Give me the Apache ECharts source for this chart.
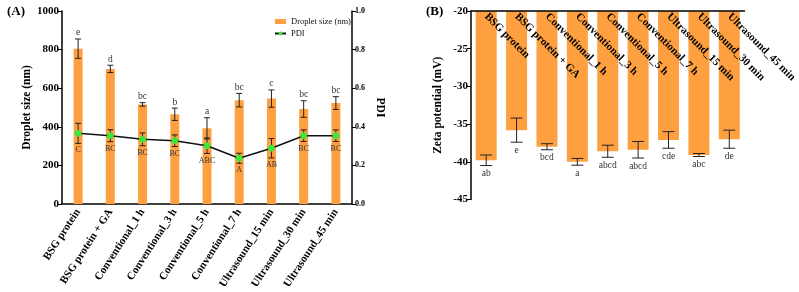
<!DOCTYPE html>
<html>
<head>
<meta charset="utf-8">
<script src="https://cdn.jsdelivr.net/npm/echarts@6/dist/echarts.min.js"></script>
<style>
    html, body { margin: 0; padding: 0; background: #fff; }
    #chart { width: 799px; height: 292px; }
</style>
</head>
<body>
<div id="chart"></div>
<script>
// categories shared by both panels
var categories = ['BSG protein', 'BSG protein + GA', 'Conventional_1 h', 'Conventional_3 h',
    'Conventional_5 h', 'Conventional_7 h', 'Ultrasound_15 min', 'Ultrasound_30 min', 'Ultrasound_45 min'];

// panel A
var dropletSize = [805, 700, 516, 465, 392, 538, 546, 492, 523];
var dropletErr = [50, 19, 9, 32, 55, 35, 45, 43, 33];
var dropletLetters = ['e', 'd', 'bc', 'b', 'a', 'bc', 'c', 'bc', 'bc'];
var pdi = [0.366, 0.354, 0.335, 0.328, 0.302, 0.237, 0.289, 0.354, 0.354];
var pdiErr = [0.052, 0.031, 0.033, 0.03, 0.04, 0.026, 0.05, 0.03, 0.03];
var pdiLetters = ['C', 'BC', 'BC', 'BC', 'ABC', 'A', 'AB', 'BC', 'BC'];

// panel B
var zeta = [-39.8, -35.8, -38.0, -40.0, -38.6, -38.4, -37.1, -39.1, -37.0];
var zetaErr = [0.7, 1.6, 0.4, 0.45, 0.8, 1.1, 1.1, 0.2, 1.2];
var zetaLetters = ['ab', 'e', 'bcd', 'a', 'abcd', 'abcd', 'cde', 'abc', 'de'];

var ORANGE = '#FFA040';
var SERIF = 'Liberation Serif';

function errData(vals, errs) {
    return vals.map(function (v, i) { return [i, v, errs[i]]; });
}

// error bar + significance letter
function errorBar(letters, cap, below, fontSize, gap) {
    return function (params, api) {
        var x = api.value(0), m = api.value(1), e = api.value(2);
        var top = api.coord([x, m + e]);
        var bot = api.coord([x, m - e]);
        var st = { stroke: '#222', lineWidth: 1 };
        var txtY = below ? bot[1] + gap : top[1] - gap;
        return {
            type: 'group',
            children: [
                { type: 'line', shape: { x1: top[0], y1: top[1], x2: bot[0], y2: bot[1] }, style: st },
                { type: 'line', shape: { x1: top[0] - cap, y1: top[1], x2: top[0] + cap, y2: top[1] }, style: st },
                { type: 'line', shape: { x1: bot[0] - cap, y1: bot[1], x2: bot[0] + cap, y2: bot[1] }, style: st },
                {
                    type: 'text',
                    style: {
                        x: top[0], y: txtY, text: letters[params.dataIndex],
                        fontFamily: SERIF, fontSize: fontSize, fill: '#333',
                        align: 'center', verticalAlign: below ? 'top' : 'bottom'
                    }
                }
            ]
        };
    };
}

var axisLine = { show: true, lineStyle: { color: '#000', width: 1.5 } };
var boldLabel = { color: '#000', fontFamily: SERIF, fontWeight: 'bold', fontSize: 11 };
var nameStyle = { color: '#000', fontFamily: SERIF, fontWeight: 'bold', fontSize: 11.5 };
var plain = function (v) { return String(v); };

var chart = echarts.init(document.getElementById('chart'));
chart.setOption({
    animation: false,
    title: [
        { text: '(A)', left: 2, top: 0, textStyle: { fontFamily: SERIF, fontWeight: 'bold', fontSize: 13, color: '#000' } },
        { text: '(B)', left: 421, top: 0, textStyle: { fontFamily: SERIF, fontWeight: 'bold', fontSize: 13, color: '#000' } }
    ],
    legend: {
        left: 269, top: 12, orient: 'vertical',
        itemWidth: 11, itemHeight: 5, itemGap: 3,
        textStyle: { fontFamily: SERIF, fontSize: 8.5, color: '#111' },
        data: [{ name: 'Droplet size (nm)', icon: 'rect' }, 'PDI']
    },
    grid: [
        { left: 62, top: 11, width: 290, height: 193 },
        { left: 471, top: 11, width: 282, height: 188.5 }
    ],
    xAxis: [
        {
            type: 'category', gridIndex: 0, data: categories,
            axisLine: axisLine,
            axisTick: { alignWithLabel: true, length: 4, lineStyle: { color: '#000' } },
            axisLabel: Object.assign({ rotate: 57, interval: 0, margin: 6 }, boldLabel)
        },
        {
            type: 'category', gridIndex: 1, data: categories, position: 'top', z: 10,
            axisLine: { show: true, onZero: false, lineStyle: { color: '#000', width: 1.5 } },
            axisTick: { alignWithLabel: true, length: 4, lineStyle: { color: '#000' } },
            axisLabel: Object.assign({ rotate: 45, interval: 0, inside: true, margin: 4 }, boldLabel)
        }
    ],
    yAxis: [
        {
            type: 'value', gridIndex: 0, min: 0, max: 1000, interval: 200,
            axisLine: axisLine,
            axisTick: { show: true, length: 4, lineStyle: { color: '#000' } },
            axisLabel: Object.assign({ margin: 3, formatter: plain }, boldLabel),
            splitLine: { show: false },
            name: 'Droplet size (nm)', nameLocation: 'middle', nameRotate: 90, nameGap: 23,
            nameTextStyle: nameStyle
        },
        {
            type: 'value', gridIndex: 0, min: 0, max: 1, interval: 0.2, position: 'right',
            axisLine: axisLine,
            axisTick: { show: true, length: 4, lineStyle: { color: '#000' } },
            axisLabel: { color: '#000', fontFamily: SERIF, fontWeight: 'bold', fontSize: 8, margin: 3,
                formatter: function (v) { return v.toFixed(1); } },
            splitLine: { show: false },
            name: 'PDI', nameLocation: 'middle', nameRotate: -90, nameGap: 22,
            nameTextStyle: nameStyle
        },
        {
            type: 'value', gridIndex: 1, min: -45, max: -20, interval: 5,
            axisLine: axisLine,
            axisTick: { show: true, length: 4, lineStyle: { color: '#000' } },
            axisLabel: Object.assign({ margin: 3, formatter: plain }, boldLabel),
            splitLine: { show: false },
            name: 'Zeta potential (mV)', nameLocation: 'middle', nameRotate: 90, nameGap: 27,
            nameTextStyle: nameStyle
        }
    ],
    series: [
        {
            name: 'Droplet size (nm)', type: 'bar', xAxisIndex: 0, yAxisIndex: 0,
            data: dropletSize, barWidth: 9, itemStyle: { color: ORANGE }
        },
        {
            name: 'errSize', type: 'custom', xAxisIndex: 0, yAxisIndex: 0, z: 3,
            data: errData(dropletSize, dropletErr),
            renderItem: errorBar(dropletLetters, 3, false, 9.5, 1)
        },
        {
            name: 'errPdi', type: 'custom', xAxisIndex: 0, yAxisIndex: 1, z: 3,
            data: errData(pdi, pdiErr),
            renderItem: errorBar(pdiLetters, 3, true, 8, 3)
        },
        {
            name: 'PDI', type: 'line', xAxisIndex: 0, yAxisIndex: 1, z: 4,
            data: pdi, symbol: 'circle', symbolSize: 6,
            lineStyle: { color: '#111', width: 1.5 },
            itemStyle: { color: '#3CE63C', borderColor: '#3CE63C' }
        },
        {
            name: 'Zeta', type: 'bar', xAxisIndex: 1, yAxisIndex: 2,
            data: zeta, barWidth: 21, clip: true, itemStyle: { color: ORANGE }
        },
        {
            name: 'errZeta', type: 'custom', xAxisIndex: 1, yAxisIndex: 2, z: 3,
            data: errData(zeta, zetaErr),
            renderItem: errorBar(zetaLetters, 6, true, 9.5, 3)
        }
    ]
});
</script>
</body>
</html>
